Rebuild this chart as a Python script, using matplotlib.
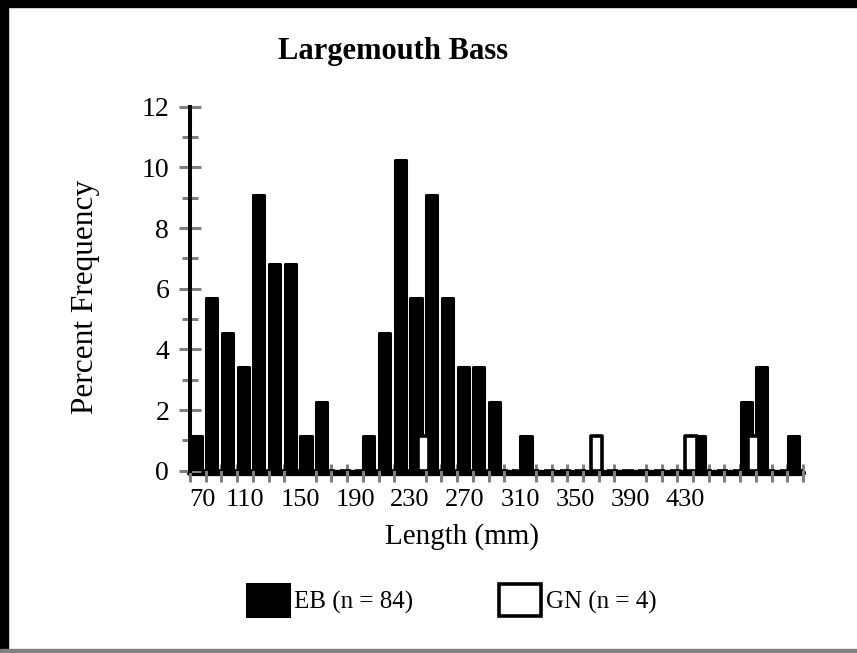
import numpy as np
import matplotlib
matplotlib.use("Agg")
import matplotlib.pyplot as plt
from matplotlib.patches import Rectangle

plt.rcParams['font.family'] = ['Liberation Serif', 'DejaVu Serif']

# 10 mm length classes
lengths = [70, 80, 90, 100, 110, 120, 130, 140, 150, 160,
           170, 180, 190, 200, 210, 220, 230, 240, 250, 260,
           270, 280, 290, 300, 310, 320, 330, 340, 350, 360,
           370, 380, 390, 400, 410, 420, 430, 440, 450]

# percent frequency, electrofishing
eb_pct = [1.14, 5.68, 4.55, 3.41, 9.09, 6.82, 6.82, 1.14, 2.27, 0,
          0, 1.14, 4.55, 10.23, 5.68, 9.09, 5.68, 3.41, 3.41, 2.27,
          0, 1.14, 0, 0, 0, 0, 0, 0, 0, 0,
          0, 0, 1.14, 0, 0, 2.27, 3.41, 0, 1.14]

# percent frequency, gill nets
gn_pct = [0, 0, 0, 0, 0, 0, 0, 0, 0, 0,
          0, 0, 0, 0, 1.14, 0, 0, 0, 0, 0,
          0, 0, 0, 0, 0, 1.14, 0, 0, 0, 0,
          0, 1.14, 0, 0, 0, 1.14, 0, 0, 0]

# axis labels as printed (every 4th class)
tick_labels = ['70', '110', '150', '190', '230', '270', '310', '350', '390', '430']

x = np.arange(len(lengths))
gray = '#808080'

fig = plt.figure(figsize=(8.57, 6.53), dpi=100)
ax = fig.add_axes([190/857, 1-470.7/653, 613/857, (470.7-106.7)/653])

eb = ax.bar(x - 0.12, eb_pct, width=0.71, color='black', edgecolor='black',
            linewidth=2.2, joinstyle='round', zorder=2, label='EB (n = 84)')
gn = ax.bar(x + 0.37, gn_pct, width=0.71, color='white', edgecolor='black',
            linewidth=2.6, joinstyle='round', zorder=3, label='GN (n = 4)')

ax.set_xlim(-0.5, len(lengths) - 0.5)
ax.set_ylim(0, 12)

# the printed labels sit a bit tighter than the classes they name
label_pos = [0.26] + [3.0 + 3.5 * i for i in range(len(tick_labels) - 1)]
ax.set_xticks(label_pos)
ax.set_xticklabels(tick_labels)
ax.set_xticks(np.arange(-0.5, len(lengths), 1), minor=True)
ax.set_yticks(np.arange(0, 13, 2))
ax.set_yticks(np.arange(1, 12, 2), minor=True)

ax.tick_params(axis='x', which='major', length=0, pad=11, labelsize=19)
ax.tick_params(axis='x', which='minor', direction='inout', length=13,
               width=2.2, color=gray)
ax.tick_params(axis='y', which='major', direction='inout', length=16,
               width=2.2, color=gray, pad=7, labelsize=20)
ax.tick_params(axis='y', which='minor', direction='inout', length=11,
               width=2.2, color=gray)

for s in ['top', 'right']:
    ax.spines[s].set_visible(False)
ax.spines['left'].set_linewidth(2.9)
ax.spines['bottom'].set_linewidth(4.5)
ax.spines['bottom'].set_position(('outward', 2))
ax.spines['bottom'].set_capstyle('round')
ax.spines['bottom'].set_zorder(1)

fig.text(393/857, 1-52/653, 'Largemouth Bass', ha='center', va='center',
         fontsize=22, fontweight='bold')
fig.text(85/857, 1-297/653, 'Percent Frequency', ha='center', va='center',
         rotation=90, fontsize=22.5)
fig.text(462/857, 1-537/653, 'Length (mm)', ha='center', va='center',
         fontsize=21)

fig.legend(handles=[eb, gn], loc='center', bbox_to_anchor=(452/857, 1-600/653),
           ncol=2, frameon=False, fontsize=18, handlelength=1.68,
           handleheight=1.6, handletextpad=0.2, columnspacing=3.42)

# outer frame of the original figure
fig.add_artist(Rectangle((0, 1-7/653), 1, 7/653, transform=fig.transFigure,
                         color='black', zorder=10))
fig.add_artist(Rectangle((0, 0), 8/857, 1, transform=fig.transFigure,
                         color='black', zorder=10))
fig.add_artist(Rectangle((0, 0), 1, 4/653, transform=fig.transFigure,
                         color=gray, zorder=10))

fig.savefig('out.png', dpi=100)
